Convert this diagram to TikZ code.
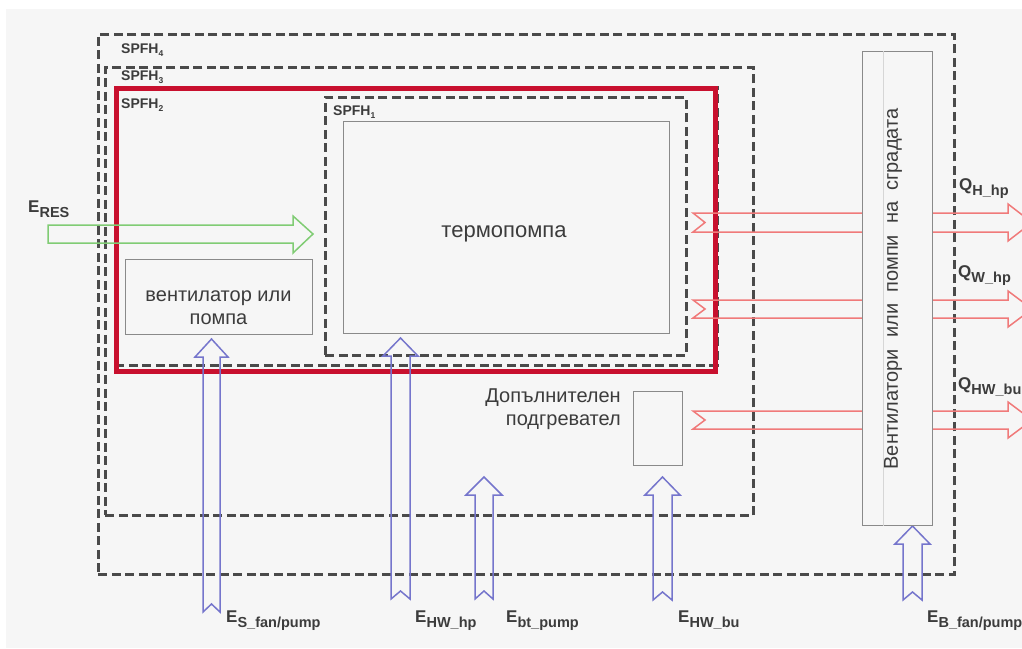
\documentclass[tikz,border=0pt]{standalone}
\usepackage{fontspec}
\setmainfont{Liberation Sans}
\definecolor{bgc}{HTML}{F6F6F6}
\definecolor{dashc}{HTML}{4A4A4A}
\definecolor{boxc}{HTML}{8A8A8A}
\definecolor{redthick}{HTML}{C8102E}
\definecolor{redarr}{HTML}{F07A7A}
\definecolor{bluearr}{HTML}{7575CC}
\definecolor{greenarr}{HTML}{80CC74}
\definecolor{txtc}{HTML}{3C3C3C}
\newcommand\ELab[2]{{\fontsize{17}{17}\selectfont\bfseries #1}{\fontsize{14.5}{14.5}\selectfont\bfseries\raisebox{-5pt}{#2}}}
\newcommand\SLab[1]{{\fontsize{14}{14}\selectfont\bfseries SPFH}{\fontsize{8.5}{8.5}\selectfont\bfseries\raisebox{-3pt}{#1}}}
\begin{document}
\begin{tikzpicture}[x=1pt,y=-1pt,
  dashbox/.style={draw=dashc, line width=2.8pt, dash pattern=on 9pt off 4.5pt, inner sep=0pt, anchor=north west},
  greybox/.style={draw=boxc, line width=1.4pt, fill=bgc, inner sep=0pt, anchor=north west},
  redbox/.style={draw=redthick, line width=5pt, inner sep=0pt, anchor=north west},
  qarrow/.style={draw=redarr, line width=1.5pt, line join=miter},
  earrow/.style={draw=bluearr, line width=1.5pt, line join=miter},
  garrow/.style={draw=greenarr, line width=1.5pt, line join=miter},
  lab/.style={text=txtc, inner sep=0pt, anchor=base west},
  txt/.style={text=txtc, inner sep=0pt, font=\fontsize{20}{23}\selectfont}
]
\useasboundingbox (0,0) rectangle (1022,648);
\fill[white] (0,0) rectangle (1022,648);
\fill[bgc] (6,9) rectangle (1022,648);

% dashed system boundaries
\node[dashbox, minimum width=856pt, minimum height=540pt] (spfh4) at (97,33) {};
\node[dashbox, minimum width=648pt, minimum height=448pt] (spfh3) at (104,66) {};
\node[dashbox, minimum width=602pt, minimum height=278pt] (spfh2d) at (114,86) {};
\node[dashbox, minimum width=361pt, minimum height=258pt] (spfh1) at (324,96) {};
\node[redbox, minimum width=599pt, minimum height=283pt] (spfh2) at (114,86) {};

% components
\node[greybox, minimum width=326pt, minimum height=212pt] (hp) at (343,121) {};
\node[greybox, minimum width=187pt, minimum height=75pt] (fan) at (125,259) {};
\node[greybox, minimum width=49pt, minimum height=74pt] (bu) at (633,391) {};

% E_RES arrow
\draw[garrow] (48,225) -- (293,225) -- (293,216) -- (313,234) -- (293,253) -- (293,243) -- (48,243) -- cycle;

% Q arrows
\draw[qarrow] (693,213) -- (1008,213) -- (1008,204) -- (1032,222.5) -- (1008,241) -- (1008,232) -- (693,232) -- (705,222.5) -- cycle;
\draw[qarrow] (693,300) -- (1008,300) -- (1008,291) -- (1032,309) -- (1008,327) -- (1008,318) -- (693,318) -- (705,309) -- cycle;
\draw[qarrow] (693,411) -- (1008,411) -- (1008,402) -- (1032,420) -- (1008,438) -- (1008,429) -- (693,429) -- (705,420) -- cycle;

% E arrows (upwards)
\draw[earrow] (203,612) -- (203,357) -- (195,357) -- (211.5,339) -- (228,357) -- (220,357) -- (220,612) -- (211.5,604) -- cycle;
\draw[earrow] (391,599) -- (391,356) -- (383,356) -- (400.5,338) -- (418,356) -- (410,356) -- (410,599) -- (400.5,591) -- cycle;
\draw[earrow] (475,599) -- (475,495) -- (466,495) -- (484,477) -- (502,495) -- (493,495) -- (493,599) -- (484,591) -- cycle;
\draw[earrow] (653,600) -- (653,495) -- (645,495) -- (662.5,477) -- (680,495) -- (672,495) -- (672,600) -- (662.5,592) -- cycle;
\draw[earrow] (903,600) -- (903,544) -- (895,544) -- (912.5,526) -- (930,544) -- (922,544) -- (922,600) -- (912.5,592) -- cycle;

% building fans / pumps
\node[greybox, minimum width=70pt, minimum height=474pt] (bld) at (862,51) {};
\draw[boxc!35, line width=0.8pt] ([xshift=21pt]bld.north west) -- ([xshift=21pt]bld.south west);
\node[txt, rotate=90] (bldt) at (893,289) {Вентилатори\ \ или\ \ помпи\ \ на\ \ сградата};

% texts
\node[txt, font=\fontsize{22}{24}\selectfont] (hpt) at (504,234) {термопомпа};
\node[txt, align=center] (fant) at (218.5,308) {вентилатор или\\помпа};
\node[txt, align=right, anchor=east] (but) at (621,409) {Допълнителен\\подгревател};

\node[lab] (l4) at (121,53) {\SLab{4}};
\node[lab] (l3) at (121,80) {\SLab{3}};
\node[lab] (l2) at (121,108) {\SLab{2}};
\node[lab] (l1) at (333,115) {\SLab{1}};

\node[lab] (eres) at (28,212) {\ELab{E}{RES}};
\node[lab] (es) at (226,622) {\ELab{E}{S\_fan/pump}};
\node[lab] (ehw) at (415,622) {\ELab{E}{HW\_hp}};
\node[lab] (ebt) at (506,622) {\ELab{E}{bt\_pump}};
\node[lab] (ehwbu) at (678,622) {\ELab{E}{HW\_bu}};
\node[lab] (eb) at (927,622) {\ELab{E}{B\_fan/pump}};
\node[lab] (qh) at (959,190) {\ELab{Q}{H\_hp}};
\node[lab] (qw) at (958,277) {\ELab{Q}{W\_hp}};
\node[lab] (qhw) at (958,389) {\ELab{Q}{HW\_bu}};
\end{tikzpicture}
\end{document}
